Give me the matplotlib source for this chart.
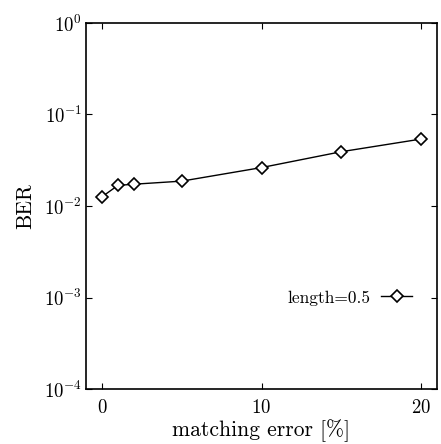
import matplotlib
matplotlib.use("Agg")
import matplotlib.pyplot as plt
import numpy as np

# dane z wykresu
matching_error = [0, 1, 2, 5, 10, 15, 20]
ber = [0.0126, 0.0168, 0.0173, 0.0187, 0.0263, 0.0392, 0.0539]
series_label = "length=0.5"

plt.rcParams['font.family'] = 'serif'
plt.rcParams['font.serif'] = ['cmr10', 'DejaVu Serif']
plt.rcParams['mathtext.fontset'] = 'cm'
plt.rcParams['axes.formatter.use_mathtext'] = True

fig = plt.figure(figsize=(4.41, 4.44), dpi=100)
ax = fig.add_axes([86/441, 1 - 389/444, (437-86)/441, (389-23)/444])

ax.plot(matching_error, ber, '-', color='black', lw=1.0, marker='D',
        markersize=6.5, markerfacecolor='white', markeredgecolor='black',
        markeredgewidth=1.2, label=series_label)

ax.set_yscale('log')
ax.set_ylim(1e-4, 1e0)
ax.set_xlim(-1, 21)
ax.set_xticks([0, 10, 20])
ax.set_yticks([1e-4, 1e-3, 1e-2, 1e-1, 1e0])
ax.minorticks_off()
ax.tick_params(direction='in', top=True, right=True, length=4, width=0.8,
               labelsize=13.5)
ax.tick_params(axis='x', pad=7)
ax.tick_params(axis='y', pad=3)

ax.set_xlabel('matching error [%]', fontsize=15.5, labelpad=2)
ax.set_ylabel('BER', fontsize=15.5, labelpad=6)

for s in ax.spines.values():
    s.set_linewidth(1.2)

# legenda bez ramki, znacznik po prawej stronie tekstu
ax.legend(loc='center right', bbox_to_anchor=(0.93, 0.249), frameon=False,
          markerfirst=False, fontsize=12.5, handlelength=1.8, handletextpad=0.6,
          borderpad=0, borderaxespad=0)

fig.savefig('out.png', dpi=100)
